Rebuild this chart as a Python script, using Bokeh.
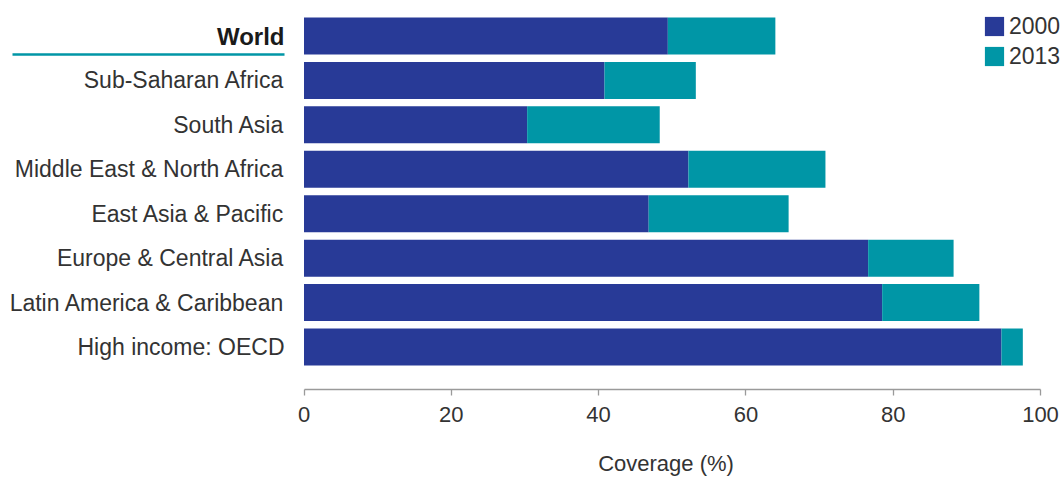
from bokeh.plotting import figure
from bokeh.models import Range1d, FixedTicker, ColumnDataSource, Legend, LegendItem
from bokeh.core.properties import value
from bokeh.embed import file_html
from bokeh.resources import INLINE

# ---- data ----
regions = ["World", "Sub-Saharan Africa", "South Asia", "Middle East & North Africa",
           "East Asia & Pacific", "Europe & Central Asia", "Latin America & Caribbean",
           "High income: OECD"]
cov_2000 = [49.4, 40.8, 30.3, 52.2, 46.8, 76.6, 78.5, 94.7]
cov_2013 = [64.0, 53.2, 48.3, 70.8, 65.8, 88.2, 91.7, 97.6]
series = ["2000", "2013"]
x_ticks = [0, 20, 40, 60, 80, 100]
axis_title = "Coverage (%)"

# ---- layout / style ----
W, H = 1064, 478
AXIS_PX = 389          # axis line, px from top
TITLE_MID_PX = 462.5   # vertical middle of the axis title
PX_PER_UNIT = 7.365
X0_PX = 303.5
ROW_PX = 44.43
TOP_ROW_PX = 35.5
BAR_H = 0.833
C2000 = "#283a97"
C2013 = "#0096a6"
TXT = "#333333"
FONT = "Liberation Sans"
FS = "23px"

n = len(regions)
ypos = [n - 1 - i for i in range(n)]
x_start = -X0_PX / PX_PER_UNIT
x_end = (W - X0_PX) / PX_PER_UNIT
y_top = (n - 1) + TOP_ROW_PX / ROW_PX
y_bottom = y_top - H / ROW_PX
y_axis_loc = y_top - AXIS_PX / ROW_PX

p = figure(width=W, height=H, x_range=Range1d(x_start, x_end),
           y_range=Range1d(y_bottom, y_top), output_backend="svg",
           toolbar_location=None, y_axis_location=None,
           min_border_left=0, min_border_right=0, min_border_top=0,
           min_border_bottom=0, min_border=0)
p.outline_line_color = None
p.xgrid.visible = False
p.ygrid.visible = False
p.background_fill_color = "white"
p.border_fill_color = "white"

ax = p.xaxis[0]
ax.fixed_location = y_axis_loc
ax.bounds = (0, 100)
ax.ticker = FixedTicker(ticks=x_ticks)
ax.minor_tick_line_color = None
ax.major_tick_in = 0
ax.major_tick_out = 6
ax.axis_line_color = "#9a9a9a"
ax.axis_line_width = 1.3
ax.major_tick_line_color = "#9a9a9a"
ax.major_tick_line_width = 1.3
ax.major_label_text_font = FONT
ax.major_label_text_font_size = "22px"
ax.major_label_text_color = TXT
ax.major_label_standoff = 11

src = ColumnDataSource(dict(y=ypos, region=regions, v2000=cov_2000, v2013=cov_2013,
                            zero=[0] * n))
r1 = p.hbar(y="y", left="zero", right="v2000", height=BAR_H, source=src,
            fill_color=C2000, line_color=None)
r2 = p.hbar(y="y", left="v2000", right="v2013", height=BAR_H, source=src,
            fill_color=C2013, line_color=None)

# row labels
lab_src = ColumnDataSource(dict(x=[0] * (n - 1), y=ypos[1:], text=regions[1:]))
p.text(x="x", y="y", text="text", source=lab_src, x_offset=-19.5,
       text_align="right", text_baseline="middle", text_font=value(FONT),
       text_font_size=FS, text_color=TXT)
world_src = ColumnDataSource(dict(x=[0], y=ypos[:1], text=regions[:1]))
p.text(x="x", y="y", text="text", source=world_src, x_offset=-19.5,
       text_align="right", text_baseline="middle", text_font=value(FONT),
       text_font_size="24px", text_font_style="bold", text_color="#1a1a1a")

# teal underline below the World label
ul_left = (12 - X0_PX) / PX_PER_UNIT
ul_right = (284 - X0_PX) / PX_PER_UNIT
ul_y = ypos[0] - BAR_H / 2
p.segment(x0=[ul_left], y0=[ul_y], x1=[ul_right], y1=[ul_y],
          line_color=C2013, line_width=2.5)

# axis title
title_src = ColumnDataSource(dict(x=[49.15], y=[y_top - TITLE_MID_PX / ROW_PX],
                                  text=[axis_title]))
p.text(x="x", y="y", text="text", source=title_src, text_align="center",
       text_baseline="middle", text_font=value(FONT), text_font_size="22px",
       text_color=TXT)

legend = Legend(items=[LegendItem(label=series[0], renderers=[r1]),
                       LegendItem(label=series[1], renderers=[r2])],
                location=(982, H - 12 - 58), orientation="vertical",
                padding=0, margin=0, spacing=2,
                glyph_width=24, glyph_height=24, label_height=28, label_standoff=3,
                label_text_font=FONT, label_text_font_size=FS,
                label_text_color=TXT, border_line_color=None,
                background_fill_alpha=0)
p.add_layout(legend)

open("out.html", "w").write(file_html(p, INLINE))
